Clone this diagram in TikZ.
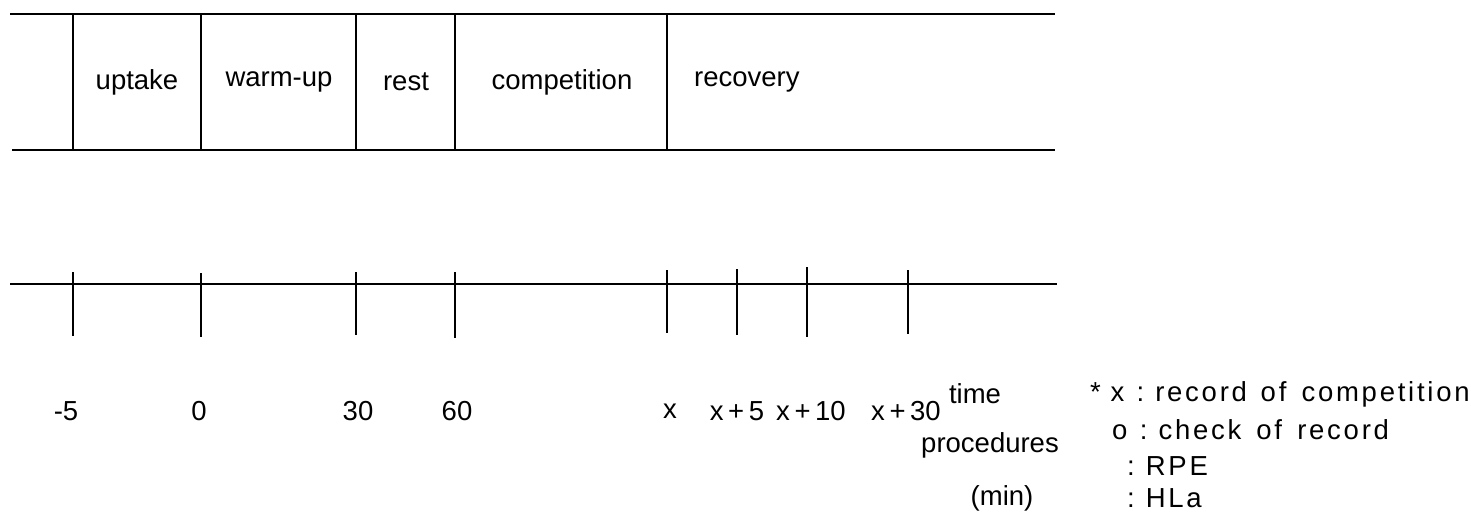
\documentclass[tikz,border=0pt]{standalone}
\usepackage{fontspec}
\setmainfont{Liberation Sans}
\newfontfamily\lgfont[LetterSpace=10]{Liberation Sans}
\begin{document}
\begin{tikzpicture}[x=1pt,y=-1pt,
  rule/.style={line width=1.9pt,black},
  lbl/.style={font=\fontsize{27.5}{32}\selectfont,inner sep=0pt},
  leg/.style={font=\fontsize{27.5}{32}\selectfont\lgfont,inner sep=0pt,anchor=west}]
\useasboundingbox (0,0) rectangle (1471,512);
% phase band
\draw[rule] (10,14) -- (1055,14);
\draw[rule] (12,150) -- (1055,150);
\foreach \xx in {73,201,356,455,667} \draw[rule] (\xx,14) -- (\xx,150);
\node[lbl] (uptake) at (137,82) {uptake};
\node[lbl] (warmup) at (279,82) {warm-up};
\node[lbl] (rest) at (406,82) {rest};
\node[lbl] (comp) at (562,82) {competition};
\node[lbl,anchor=west] (recov) at (694,82) {recovery};
% time axis
\draw[rule] (10,284) -- (1057,284);
\foreach \xx/\ya/\yb in {73/272/336,201/273/337,356/272/335,455/272/338,667/270/333,737/269/335,807/267/337,908/270/334}
  \draw[rule] (\xx,\ya) -- (\xx,\yb);
\node[lbl] (tm5) at (66,411) {-5};
\node[lbl] (t0) at (199,411) {0};
\node[lbl] (t30) at (358,411) {30};
\node[lbl] (t60) at (457,411) {60};
\node[lbl] (tx) at (670,411) {x};
\node[lbl] (tx5) at (737,411) {x\,+\,5};
\node[lbl] (tx10) at (811,411) {x\,+\,10};
\node[lbl] (tx30) at (906,411) {x\,+\,30};
\node[lbl] (time) at (975,394) {time};
\node[lbl] (proc) at (990,445) {procedures};
\node[lbl] (min) at (1002,498) {(min)};
% legend
\node[leg] (l1) at (1090,394) {*\hspace{0.35em}x\hspace{0.45em}:\hspace{0.4em}record\hspace{0.5em}of\hspace{0.55em}competition};
\node[leg] (l2) at (1112,430) {o\hspace{0.45em}:\hspace{0.4em}check\hspace{0.55em}of\hspace{0.55em}record};
\node[leg] (l3) at (1127,466) {:\hspace{0.4em}RPE};
\node[leg] (l4) at (1127,498) {:\hspace{0.4em}HLa};
\end{tikzpicture}
\end{document}
